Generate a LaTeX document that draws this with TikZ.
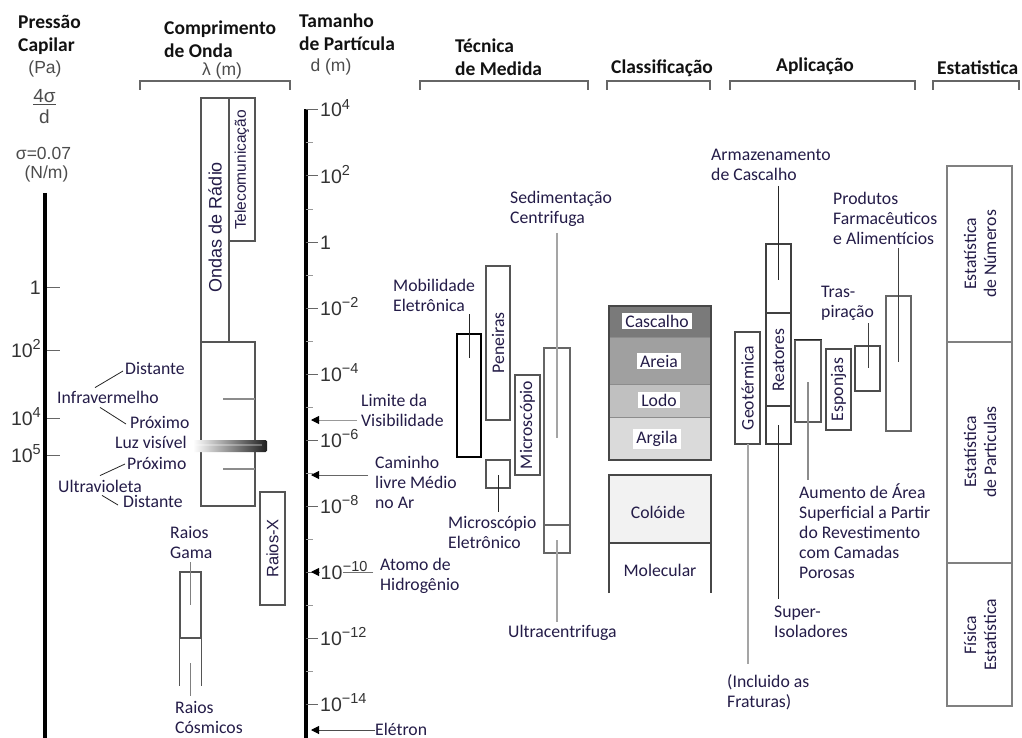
\documentclass[tikz,border=0pt]{standalone}
\usepackage{fontspec}
\setmainfont{Carlito}
\newfontfamily\arialfont{Liberation Sans}
\usetikzlibrary{arrows.meta,calc,fit}
\definecolor{ink}{RGB}{36,28,72}
\definecolor{hdrink}{RGB}{18,18,18}
\definecolor{boxline}{RGB}{85,85,85}
\definecolor{softline}{RGB}{165,165,165}
\definecolor{gravel}{RGB}{122,122,122}
\definecolor{sand}{RGB}{160,160,160}
\definecolor{silt}{RGB}{192,192,192}
\definecolor{clay}{RGB}{218,218,218}
\definecolor{colloid}{RGB}{242,242,242}
% superscript exponent for the axis numbers
\newcommand\pw[1]{\raisebox{7.5pt}{\fontsize{14.5}{15}\selectfont #1}}

\begin{document}
\begin{tikzpicture}[x=1pt,y=-1pt,
  hdr/.style={font=\fontsize{19.5}{23.5}\selectfont\bfseries, text=hdrink, align=left, inner sep=0pt, anchor=west},
  lbl/.style={font=\fontsize{17.7}{20}\selectfont, text=ink, align=left, inner sep=0pt, anchor=west},
  unitlbl/.style={font=\arialfont\fontsize{17.5}{19}\selectfont, text=black!70, inner sep=0pt},
  axnum/.style={font=\arialfont\fontsize{19.5}{20}\selectfont, text=black!80, inner sep=0pt},
  vlbl/.style={rotate=90, font=\fontsize{17.7}{20}\selectfont, text=ink, inner sep=0pt, align=center},
  vlbla/.style={rotate=90, font=\arialfont\fontsize{15.5}{19}\selectfont, text=ink, inner sep=0pt},
  rng/.style={draw=boxline, line width=1.1pt, inner sep=0pt},
  brk/.style={draw=black!60, line width=1.3pt},
  tick/.style={draw=black!60, line width=1pt},
  ptr/.style={draw=black!85, line width=1pt},
  softptr/.style={draw=softline, line width=1.2pt},
  axarrow/.style={line width=1pt, -{Triangle[length=8pt,width=8pt,color=black]}},
  grade/.style={lbl, anchor=center, fill=white, inner xsep=3pt, inner ysep=2pt}
]
\useasboundingbox (0,0) rectangle (1022,738);
\fill[white] (0,0) rectangle (1022,738);

% ---------------- column headers ----------------
\node[hdr] (h-cap)  at (18,35)  {Pressão\\Capilar};
\node[hdr] (h-wave) at (164,39) {Comprimento\\de Onda};
\node[hdr] (h-size) at (299,32) {Tamanho\\de Partícula};
\node[hdr] (h-tech) at (455,57) {Técnica\\de Medida};
\node[hdr] (h-cls)  at (611,68) {Classificação};
\node[hdr] (h-app)  at (776,66) {Aplicação};
\node[hdr] (h-stat) at (937,68) {Estatistica};

% brackets under the headers
\draw[brk] (140,90) -- (140,81) -- (290,81) -- (290,90);
\draw[brk] (420,90) -- (420,81) -- (588,81) -- (588,90);
\draw[brk] (607,90) -- (607,81) -- (710,81) -- (710,90);
\draw[brk] (730,90) -- (730,81) -- (915,81) -- (915,90);
\draw[brk] (933,90) -- (933,81) -- (1019,81) -- (1019,90);

% ---------------- capillary pressure axis ----------------
\node[unitlbl] (pa) at (45,69) {(Pa)};
\node[unitlbl, font=\arialfont\fontsize{19}{20}\selectfont] (frac-n) at (44.5,96) {4σ};
\node[unitlbl, font=\arialfont\fontsize{19}{20}\selectfont] (frac-d) at (44.5,117) {d};
\path (frac-n.south west) ++(0,1.5) coordinate (fb1) (frac-n.south east) ++(0,1.5) coordinate (fb2);
\draw[black!70, line width=1pt] (fb1) -- (fb2);
\node[unitlbl] (sigma) at (43.5,153) {σ=0.07};
\node[unitlbl] (nm) at (46.5,174) {(N/m)};
\coordinate (cap-top) at (45,193);
\coordinate (cap-bot) at (45,738);
\draw[line width=3.6pt] (cap-top) -- (cap-bot);
\foreach \yy/\txt in {287/1, 350/{10\pw{2}}, 418/{10\pw{4}}, 455/{10\pw{5}}} {
  \draw[tick] (47,\yy) -- (60,\yy);
  \node[axnum, anchor=base east] (cap-\yy) at (41,{\yy+7}) {\txt};
}

% ---------------- wavelength column ----------------
\node[unitlbl] (lambda) at (222,71) {λ (m)};
\node[rng, fit={(201,98) (229,342)}] (radio) {};
\node[rng, fit={(229,98) (255,241)}] (tele) {};
\node[vlbla, font=\arialfont\fontsize{18}{20}\selectfont] at (215,227) {Ondas de Rádio};
\node[vlbla] at (242,170) {Telecomunicação};
\node[rng, fit={(201,342) (255,506)}] (optic) {};
\draw[draw=black!45, line width=1.5pt] (223,399) -- (255,399);
\draw[draw=black!45, line width=1.5pt] (223,469) -- (255,469);
\shade[left color=white, right color=black!88, rounded corners=1.5pt] (193,440) rectangle (267,452);
\fill[white, opacity=0.3] (195,443.5) rectangle (262,445.5);
\node[rng, fit={(260,492) (285,605)}] (xray) {};
\node[vlbla, font=\arialfont\fontsize{16.5}{19}\selectfont] at (xray.center) {Raios-X};

\node[lbl] (ir-far)  at (125,368) {Distante};
\node[lbl] (ir)      at (57,397)  {Infravermelho};
\node[lbl] (ir-near) at (130,422) {Próximo};
\node[lbl] (vis)     at (115,442) {Luz visível};
\node[lbl] (uv-near) at (127,463) {Próximo};
\node[lbl] (uv)      at (58,486)  {Ultravioleta};
\node[lbl] (uv-far)  at (123,501) {Distante};
\draw[ptr, line width=0.8pt] ($(ir.north west)+(38,-3)$) -- ($(ir-far.west)+(-2,3)$);
\draw[ptr, line width=0.8pt] ($(ir.south west)+(43,4)$) -- ($(ir-near.west)+(-4,2)$);
\draw[ptr, line width=0.8pt] ($(uv.north west)+(42,-4)$) -- ($(uv-near.west)+(-2,1)$);
\draw[ptr, line width=0.8pt] ($(uv.south west)+(44,3)$) -- ($(uv-far.west)+(-5,4)$);

\node[lbl] (gama) at (170,542) {Raios\\Gama};
\node[rng, fit={(180,572) (201,638)}] (gbox) {};
\draw[rng] (gbox.south west) -- ++(0,47);
\draw[rng] (gbox.south east) -- ++(0,47);
\coordinate (g-up) at (190,605);
\coordinate (g-dn) at (190,663);
\draw[softptr, draw=black!50, line width=1pt] (g-up |- gama.south) ++(0,4) -- (g-up);
\node[lbl] (cosm) at (175,717) {Raios\\Cósmicos};
\draw[softptr, draw=black!50, line width=1pt] (g-dn) -- ($(g-dn |- cosm.north)+(0,-5)$);

% ---------------- particle size axis ----------------
\node[unitlbl] (dm) at (331,67) {d (m)};
\coordinate (d-top) at (306,109);
\coordinate (d-bot) at (306,738);
\draw[line width=3.6pt] (d-top) -- (d-bot);
\foreach \e in {3,1,-1,-3,-5,-7,-9,-11,-13}
  \draw[tick, draw=black!40] (306,{242-33*\e}) -- (313,{242-33*\e});
\foreach \e/\txt in {4/{10\pw{4}}, 2/{10\pw{2}}, 0/1, -2/{10\pw{−2}}, -4/{10\pw{−4}},
                     -6/{10\pw{−6}}, -8/{10\pw{−8}}, -12/{10\pw{−12}}, -14/{10\pw{−14}}} {
  \draw[tick] (306,{242-33*\e}) -- (318,{242-33*\e});
  \node[axnum, anchor=base west] (d\e) at (320,{249-33*\e}) {\txt};
}
\draw[tick] (306,572) -- (318,572);

\node[lbl] (limit) at (361,410) {Limite da\\Visibilidade};
\coordinate (limit-tip) at (311,420);
\draw[axarrow, draw=black!40] ($(limit-tip -| limit.west)+(-4,0)$) -- (limit-tip);

\node[lbl] (mfp) at (375,482) {Caminho\\livre Médio\\no Ar};
\coordinate (mfp-tip) at (311,475);
\draw[axarrow, draw=black!60] ($(mfp-tip -| mfp.west)+(-7,0)$) -- (mfp-tip);

\node[lbl] (atom) at (380,576) {Atomo de\\Hidrogênio};
\coordinate (atom-tip) at (311,572);
\draw[axarrow, draw=black!55] ($(atom-tip -| atom.west)+(-7,0)$) -- (atom-tip);
\node[axnum, anchor=base west] (d-10) at (320,579) {\fboxsep=0.5pt\colorbox{white}{10}\pw{−10}};

\node[lbl] (electron) at (375,729) {Elétron};
\coordinate (el-tip) at (311,730);
\draw[axarrow, draw=black!70] (el-tip -| electron.west) -- (el-tip);

% ---------------- measuring techniques ----------------
\node[lbl] (mob) at (393,295) {Mobilidade\\Eletrônica};
\node[rng, draw=black, line width=1.6pt, fit={(457,334) (481,457)}] (mobbox) {};
\coordinate (mob-end) at (469,358);
\draw[ptr] ($(mob-end |- mob.south)+(0,3)$) -- (mob-end);

\node[rng, fit={(486,266) (510,420)}] (sieve) {};
\node[vlbl] at (sieve.center) {Peneiras};
\node[rng, fit={(515,375) (540,475)}] (micro) {};
\node[vlbl] at (micro.center) {Microscópio};
\node[rng, fit={(486,460) (510,488)}] (emic) {};
\node[lbl] (emic-l) at (448,532) {Microscópio\\Eletrônico};
\coordinate (emic-in) at (498,475);
\draw[ptr] (emic-in) -- ($(emic-in |- emic-l.north)+(0,-4)$);

\node[rng, draw=black!60, fit={(544,348) (570,553)}] (ultra) {};
\draw[rng, draw=black!60] (544,525) -- (570,525);
\node[lbl] (sed) at (510,209) {Sedimentação\\Centrifuga};
\coordinate (sed-end) at (557,438);
\draw[softptr] ($(sed-end |- sed.south)+(0,6)$) -- (sed-end);
\node[lbl] (ucf) at (508,633) {Ultracentrifuga};
\coordinate (ucf-in) at (557,540);
\draw[softptr] (ucf-in) -- ($(ucf-in |- ucf.north)+(0,-3)$);

% ---------------- classification ----------------
\fill[gravel] (609,306) rectangle (711,337);
\fill[sand]   (609,337) rectangle (711,384);
\fill[silt]   (609,384) rectangle (711,417);
\fill[clay]   (609,417) rectangle (711,460);
\draw[black!45, line width=1pt] (609,337) -- (711,337) (609,384) -- (711,384) (609,417) -- (711,417);
\draw[black!72, line width=2pt] (609,306) rectangle (711,460);
\node[grade] (g-gravel) at (657,321) {Cascalho};
\node[grade] (g-sand)   at (659,361) {Areia};
\node[grade] (g-silt)   at (659,400) {Lodo};
\node[grade] (g-clay)   at (657,439) {Argila};

\fill[colloid] (609,475) rectangle (711,543);
\draw[black!72, line width=2pt] (609,593) -- (609,475) -- (711,475) -- (711,593);
\draw[black!72, line width=1.2pt] (609,543) -- (711,543);
\node[lbl, anchor=center] (g-colloid) at (658,512) {Colóide};
\node[lbl, anchor=center] (g-molec) at (660,570) {Molecular};

% ---------------- applications ----------------
\node[lbl] (gravst) at (711,165) {Armazenamento\\de Cascalho};
\node[rng, draw=black!75, fit={(766,244) (791,444)}] (reactor) {};
\draw[rng, draw=black!75] (766,313) -- (791,313) (766,406) -- (791,406);
\node[vlbl] at (778.5,360) {Reatores};
\coordinate (gravst-end) at (778,280);
\draw[ptr] ($(gravst-end |- gravst.south)+(0,5)$) -- (gravst-end);
\node[lbl] (superins) at (774,622) {Super-\\Isoladores};
\coordinate (superins-in) at (778,425);
\draw[ptr] (superins-in) -- ($(superins-in |- superins.north)+(0,-7)$);

\node[rng, draw=black!70, fit={(735,332) (760,444)}] (geo) {};
\node[vlbl] at (geo.center) {Geotérmica};
\node[lbl] (fract) at (727,692) {(Incluido as\\Fraturas)};
\coordinate (geo-out) at (748,444);
\draw[softptr] (geo-out) -- ($(geo-out |- fract.north)+(0,-10)$);

\node[rng, draw=black!65, fit={(795,340) (821,422)}] (surf) {};
\draw[black!85, line width=1.6pt] (surf.north west) -- (surf.north east);
\node[lbl] (surf-l) at (799,531) {Aumento de Área\\Superficial a Partir\\do Revestimento\\com Camadas\\Porosas};
\coordinate (surf-in) at (808,382);
\draw[softptr, draw=black!45] (surf-in) -- ($(surf-in |- surf-l.north)+(0,-3)$);

\node[rng, draw=black!70, fit={(826,349) (851,430)}] (sponge) {};
\node[vlbl] at (sponge.center) {Esponjas};

\node[rng, draw=black!70, fit={(855,346) (880,391)}] (transp) {};
\node[lbl] (transp-l) at (821,303) {Tras-\\piração};
\coordinate (transp-end) at (868,368);
\draw[ptr, draw=black!75] (868,323) -- (transp-end);

\node[rng, draw=black!60, fit={(886,296) (911,431)}] (pharma) {};
\node[lbl] (pharma-l) at (833,218) {Produtos\\Farmacêuticos\\e Alimentícios};
\coordinate (pharma-end) at (898,362);
\draw[ptr, draw=black!75] ($(pharma-end |- pharma-l.south)+(0,4)$) -- (pharma-end);

% ---------------- statistics ----------------
\node[rng, draw=black!50, line width=1.6pt, fit={(947,166) (1012,706)}] (statbox) {};
\draw[black!50, line width=1.6pt] (947,342) -- (1012,342) (947,563) -- (1012,563);
\node[vlbl] (st-num)  at (980,254) {Estatística\\de Números};
\node[vlbl] (st-part) at (980,452) {Estatística\\de Particulas};
\node[vlbl] (st-phys) at (980,635) {Física\\Estatística};
\end{tikzpicture}
\end{document}
